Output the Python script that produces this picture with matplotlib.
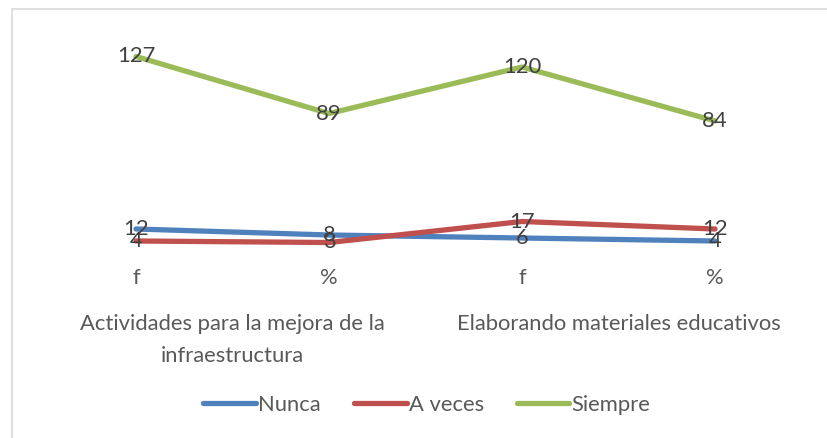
import matplotlib.pyplot as plt
from matplotlib.patches import Rectangle

# datos
sub_labels = ["f", "%", "f", "%"]
grupos = ["Actividades para la mejora de la\ninfraestructura", "Elaborando materiales educativos"]
nunca = [12, 8, 6, 4]
a_veces = [4, 3, 17, 12]
siempre = [127, 89, 120, 84]

plt.rcParams['font.family'] = ['Lato', 'DejaVu Sans']
fs = 15.8

fig = plt.figure(figsize=(8.27, 4.38), dpi=100)
ax = fig.add_axes([39.5 / 827, (438 - 247) / 438, 772 / 827, 210 / 438])

x = range(len(sub_labels))
series = [("Nunca", nunca, "#4F81BD"),
          ("A veces", a_veces, "#C0504D"),
          ("Siempre", siempre, "#9BBB59")]
for nombre, vals, col in series:
    ax.plot(x, vals, color=col, lw=3.8, label=nombre, solid_capstyle='round')
for nombre, vals, col in series:
    for xi, v in zip(x, vals):
        ax.text(xi, v, str(v), ha='center', va='center', fontsize=fs, color='#404040')

ax.set_xlim(-0.5, 3.5)
ax.set_ylim(0, 140)
ax.set_yticks([])
ax.set_xticks(list(x))
ax.set_xticklabels(sub_labels, fontsize=fs, color='#595959')
ax.tick_params(axis='x', length=0, pad=15)
for s in ax.spines.values():
    s.set_visible(False)

tr = ax.get_xaxis_transform()
ax.text(0.5, -0.32, grupos[0], transform=tr, ha='center', va='top', fontsize=fs,
        color='#595959', linespacing=1.75)
ax.text(2.5, -0.32, grupos[1], transform=tr, ha='center', va='top', fontsize=fs,
        color='#595959')

fig.legend(loc='center', bbox_to_anchor=(427 / 827, (438 - 405) / 438), ncol=3,
           frameon=False, fontsize=fs, handlelength=2.4, handletextpad=0.1,
           columnspacing=1.5, labelcolor='#595959')

fig.patches.append(Rectangle((11.5 / 827, -0.1), 1.2, (438 - 8.5) / 438 + 0.1,
                             transform=fig.transFigure, fill=False,
                             edgecolor='#D9D9D9', lw=1.2))

fig.savefig("out.png", dpi=100)
